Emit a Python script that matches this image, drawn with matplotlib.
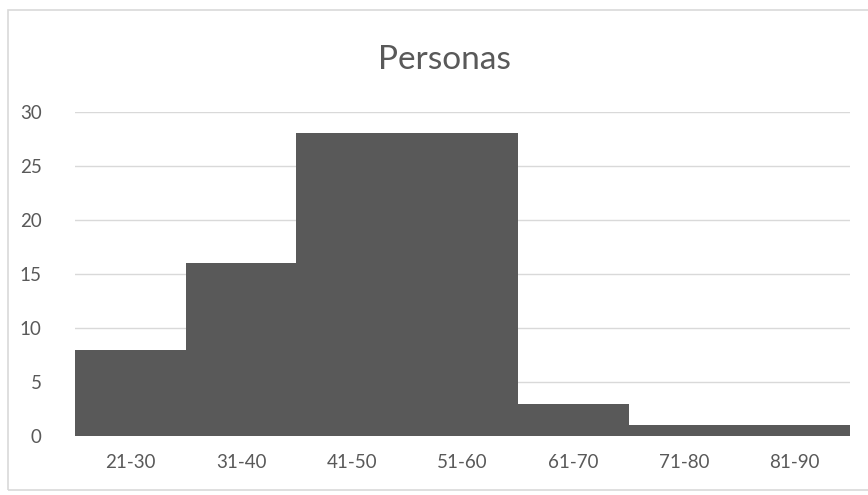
import numpy as np
import matplotlib.pyplot as plt
from matplotlib.patches import Rectangle

plt.rcParams['font.family'] = ['Lato', 'DejaVu Sans']

# Rangos de edad y número de personas
rangos = ['21-30', '31-40', '41-50', '51-60', '61-70', '71-80', '81-90']
personas = [8, 16, 28, 28, 3, 1, 1]
y_ticks = [0, 5, 10, 15, 20, 25, 30]

fig = plt.figure(figsize=(8.68, 4.95), dpi=100)
ax = fig.add_axes([0.0864, 0.119, 0.893, 0.655])

# marco del gráfico
fig.patches.append(Rectangle((0.009, 0.01), 0.995, 0.97, transform=fig.transFigure,
                             fill=False, edgecolor='#d9d9d9', linewidth=1.2))

x = np.arange(len(rangos))
ax.bar(x, personas, width=1.0, color='#595959', edgecolor='none', zorder=3)

ax.set_xlim(-0.5, len(rangos) - 0.5)
ax.set_ylim(0, 30)
ax.set_yticks(y_ticks)
ax.set_xticks(x)
ax.set_xticklabels(rangos)
ax.tick_params(axis='both', length=0, labelsize=13.5, colors='#595959')
ax.tick_params(axis='y', pad=24)
ax.tick_params(axis='x', pad=13)
ax.grid(axis='y', color='#d9d9d9', linewidth=1, zorder=0)
for s in ax.spines.values():
    s.set_visible(False)

fig.text(0.512, 0.878, 'Personas', ha='center', va='center', fontsize=24, color='#595959')

fig.savefig('out.png', dpi=100)
